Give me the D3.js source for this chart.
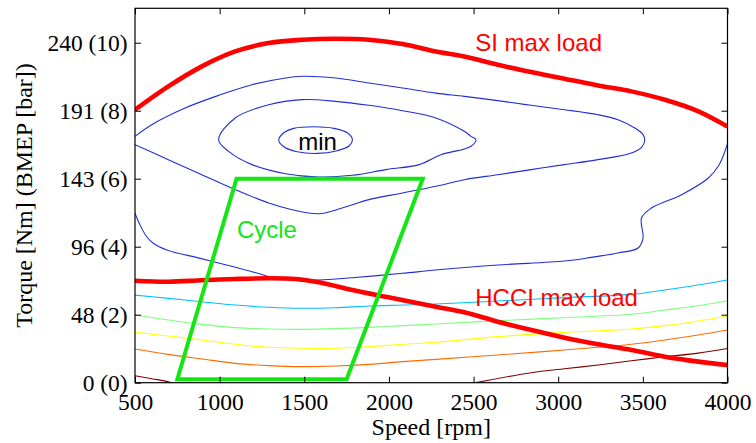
<!DOCTYPE html>
<html>
<head>
<meta charset="utf-8">
<script src="https://cdn.jsdelivr.net/npm/d3@7"></script>
<style>
  html, body { margin: 0; padding: 0; background: #fff; }
  svg { display: block; }
</style>
</head>
<body>
<svg id="chart" width="756" height="443"></svg>
<script>
// ---- axes ----
const speedTicks = [500, 1000, 1500, 2000, 2500, 3000, 3500, 4000];
const torqueTicks = [0, 47.8, 95.6, 143.4, 191.2, 239];
const torqueTickLabels = ["0 (0)", "48 (2)", "96 (4)", "143 (6)", "191 (8)", "240 (10)"];

// ---- max load limits [rpm, Nm] ----
const siMaxLoad = [[500,191.9],[697,208.3],[895,222.4],[1092,232.9],[1290,238.8],[1488,241.1],[1685,241.8],[1882,241.1],[2080,238.1],[2277,232.9],[2445,229.4],[2643,223.5],[2840,218.4],[3037,213.7],[3235,209.0],[3432,204.8],[3630,198.9],[3828,190.8],[4000,180.1]];
const hcciMaxLoad = [[500,71.7],[697,71.0],[895,72.0],[1092,72.9],[1290,73.4],[1448,72.9],[1586,70.6],[1784,65.2],[1981,60.4],[2277,53.4],[2445,49.5],[2643,42.9],[2840,37.1],[3037,31.6],[3235,27.0],[3432,23.0],[3630,18.3],[3828,14.8],[4000,12.4]];

// ---- drive cycle operating area ----
const cycle = [[750,2.5],[1750,2.5],[2200,143.4],[1100,143.4]];

// ---- iso-efficiency contours near the optimum (closed loops) ----
const contourMin = [[1349,170.6],[1379,175.7],[1438,178.8],[1556,179.9],[1675,178.8],[1754,175.7],[1784,171.1],[1764,166.4],[1695,163.1],[1576,161.2],[1458,162.4],[1379,165.9]];
const contour2 = [[994,170.8],[1092,186.1],[1290,195.4],[1487,199.0],[1685,197.8],[1882,195.0],[2080,191.2],[2277,186.1],[2445,176.7],[2485,173.2],[2514,170.8],[2485,166.2],[2435,164.0],[2307,160.3],[2179,153.3],[1981,149.8],[1784,145.8],[1586,144.6],[1389,146.9],[1191,153.3],[1053,162.6]];
// ---- contours that run out of the map ----
const contour3 = [[500,173.2],[599,181.4],[796,193.1],[994,202.0],[1191,209.5],[1389,214.2],[1487,215.4],[1685,214.2],[1882,210.7],[2080,207.2],[2277,203.6],[2445,201.3],[2643,198.3],[2840,195.0],[3037,191.9],[3235,188.4],[3353,184.9],[3452,179.1],[3501,174.4],[3511,170.1],[3492,165.5],[3432,161.5],[3235,156.8],[3037,153.3],[2840,149.8],[2643,146.2],[2445,142.7],[2277,138.1],[2080,133.4],[1882,128.7],[1724,122.8],[1586,118.8],[1428,121.6],[1290,126.3],[1092,135.7],[895,146.2],[697,156.8],[500,167.3]];
const contour4 = [[500,119.1],[530,110.8],[569,102.6],[608,98.0],[688,93.3],[885,87.4],[1082,81.5],[1240,76.4],[1329,73.4],[1586,72.2],[1784,73.8],[2080,76.9],[2277,79.2],[2643,82.7],[3037,85.5],[3196,88.1],[3353,91.2],[3472,94.7],[3501,101.7],[3492,115.8],[3551,122.8],[3729,132.2],[3887,143.9],[3950,153.0],[4000,168.0]];
const contourCyan = [[500,61.6],[697,59.3],[895,56.9],[1092,54.6],[1290,53.0],[1487,52.3],[1685,52.7],[1882,53.9],[2080,54.6],[2277,55.3],[2643,57.4],[3037,59.8],[3432,62.1],[3630,65.2],[3827,68.7],[4000,72.2]];
const contourGreen = [[500,47.6],[697,44.1],[895,41.0],[1092,38.7],[1290,37.7],[1487,37.5],[1685,38.0],[1882,38.9],[2080,40.1],[2277,41.3],[2643,43.6],[3037,45.7],[3432,48.1],[3630,51.1],[3827,54.1],[4000,57.4]];
const contourYellow = [[500,35.4],[697,32.8],[895,30.0],[1092,27.0],[1290,24.9],[1487,24.2],[1685,24.2],[1882,25.3],[2080,27.0],[2277,28.4],[2643,32.4],[3037,35.4],[3432,37.7],[3630,40.1],[3827,43.4],[4000,46.9]];
const contourOrange = [[500,23.7],[697,19.9],[895,16.7],[1092,13.6],[1290,12.0],[1487,11.3],[1685,11.7],[1882,12.9],[2080,14.8],[2277,16.4],[2643,19.5],[3037,23.0],[3432,27.0],[3630,30.0],[3827,33.5],[4000,37.0]];
const contourDarkRedLow = [[500,4.9],[600,2.8],[697,0.7],[725,-0.5]];
const contourDarkRedHigh = [[2490,-0.5],[2840,7.0],[3037,9.8],[3235,12.4],[3432,15.4],[3630,18.2],[3827,20.8],[4000,24.0]];

// ---- annotations [text, rpm, Nm, colour, anchor] ----
const annotations = [
  ["SI max load", 2510, 233.4, "#ff0000", "start"],
  ["HCCI max load", 2510, 54.1, "#ff0000", "start"],
  ["Cycle", 1102, 101.7, "#14e614", "start"],
  ["min", 1578, 163.8, "#000000", "middle"]
];

const W = 756, H = 443;
const margin = {left: 135, top: 8.3, right: 28.5, bottom: 60.3};
const svg = d3.select("#chart");

const x = d3.scaleLinear().domain([500, 4000]).range([margin.left, W - margin.right]);
const y = d3.scaleLinear().domain([0, 263.2]).range([H - margin.bottom, margin.top]);

svg.append("defs").append("clipPath").attr("id", "plot-clip")
  .append("rect")
  .attr("x", x(500)).attr("y", y(263.2))
  .attr("width", x(4000) - x(500)).attr("height", y(0) - y(263.2));

const plot = svg.append("g").attr("clip-path", "url(#plot-clip)");

const line = d3.line().x(d => x(d[0])).y(d => y(d[1])).curve(d3.curveCatmullRom.alpha(0.5));
const closedLine = d3.line().x(d => x(d[0])).y(d => y(d[1])).curve(d3.curveCatmullRomClosed.alpha(0.5));

const blue = "#1f2fd8";
function thin(data, color, closed) {
  plot.append("path").datum(data)
    .attr("d", closed ? closedLine : line)
    .attr("fill", "none").attr("stroke", color).attr("stroke-width", 1.1);
}
thin(contourDarkRedLow, "#800000");
thin(contourDarkRedHigh, "#800000");
thin(contourOrange, "#ff6a00");
thin(contourYellow, "#ffff00");
thin(contourGreen, "#7dff7d");
thin(contourCyan, "#00bfff");
thin(contour4, blue);
thin(contour3, blue);
thin(contour2, blue, true);
thin(contourMin, blue, true);

// max load curves
[siMaxLoad, hcciMaxLoad].forEach(d => {
  plot.append("path").datum(d).attr("d", line)
    .attr("fill", "none").attr("stroke", "#ff0000").attr("stroke-width", 4.6)
    .attr("stroke-linejoin", "round");
});

// cycle area outline
plot.append("path").datum(cycle)
  .attr("d", d3.line().x(d => x(d[0])).y(d => y(d[1])).curve(d3.curveLinearClosed))
  .attr("fill", "none").attr("stroke", "#14e614").attr("stroke-width", 4)
  .attr("stroke-linejoin", "miter");

// annotations
svg.append("g").selectAll("text").data(annotations).join("text")
  .attr("x", d => x(d[1])).attr("y", d => y(d[2]))
  .attr("fill", d => d[3]).attr("text-anchor", d => d[4])
  .attr("font-family", "'Liberation Sans', Arial, sans-serif")
  .attr("font-size", 24)
  .text(d => d[0]);

// axes with inward ticks on all four sides
const serif = "'Liberation Serif', 'Times New Roman', serif";
const tickLen = 6;
const axisStyle = g => {
  g.select(".domain").remove();
  g.selectAll(".tick line").attr("stroke", "#000").attr("stroke-width", 1);
  g.selectAll("text").attr("font-family", serif).attr("font-size", 23.5).attr("fill", "#000");
};

svg.append("g").attr("transform", `translate(0,${y(0)})`)
  .call(d3.axisBottom(x).tickValues(speedTicks).tickFormat(d3.format("d"))
    .tickSizeInner(-tickLen).tickSizeOuter(0).tickPadding(10.5))
  .call(axisStyle);
svg.append("g").attr("transform", `translate(0,${y(263.2)})`)
  .call(d3.axisTop(x).tickValues(speedTicks).tickFormat("")
    .tickSizeInner(-tickLen).tickSizeOuter(0))
  .call(axisStyle);
svg.append("g").attr("transform", `translate(${x(500)},0)`)
  .call(d3.axisLeft(y).tickValues(torqueTicks).tickFormat((d, i) => torqueTickLabels[i])
    .tickSizeInner(-tickLen).tickSizeOuter(0).tickPadding(7.3))
  .call(axisStyle)
  .call(g => g.selectAll("text").attr("dy", "0.35em"));
svg.append("g").attr("transform", `translate(${x(4000)},0)`)
  .call(d3.axisRight(y).tickValues(torqueTicks).tickFormat("")
    .tickSizeInner(-tickLen).tickSizeOuter(0))
  .call(axisStyle);

// frame
svg.append("rect")
  .attr("x", x(500)).attr("y", y(263.2))
  .attr("width", x(4000) - x(500)).attr("height", y(0) - y(263.2))
  .attr("fill", "none").attr("stroke", "#000").attr("stroke-width", 1.2);

// axis titles
svg.append("text")
  .attr("x", (x(500) + x(4000)) / 2).attr("y", 435)
  .attr("text-anchor", "middle")
  .attr("font-family", serif).attr("font-size", 24)
  .text("Speed [rpm]");
svg.append("text")
  .attr("transform", `translate(32,${(y(0) + y(263.2)) / 2}) rotate(-90)`)
  .attr("text-anchor", "middle")
  .attr("font-family", serif).attr("font-size", 24)
  .text("Torque [Nm] (BMEP [bar])");
</script>
</body>
</html>
